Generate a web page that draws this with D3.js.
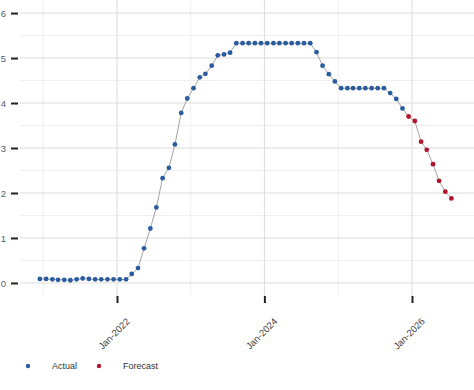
<!DOCTYPE html>
<html>
<head>
<meta charset="utf-8">
<script src="https://cdn.jsdelivr.net/npm/d3@7"></script>
<style>
  body { margin: 0; background: #fff; }
  svg { display: block; font-family: "Liberation Sans", Arial, sans-serif; }
</style>
</head>
<body>
<div id="chart"></div>
<script>
(function(){

// monthly rate, first value is Dec 2020
var actualStart = "2020-12"
var actual = [0.09, 0.09, 0.08, 0.07, 0.07, 0.06, 0.08, 0.10, 0.09, 0.08, 0.08, 0.08, 0.08,
              0.08, 0.08, 0.20, 0.33, 0.77, 1.21, 1.68, 2.33, 2.56, 3.08, 3.78, 4.10,
              4.33, 4.57, 4.65, 4.83, 5.06, 5.08, 5.12, 5.33, 5.33, 5.33, 5.33, 5.33,
              5.33, 5.33, 5.33, 5.33, 5.33, 5.33, 5.33, 5.33, 5.13, 4.83, 4.64, 4.48,
              4.33, 4.33, 4.33, 4.33, 4.33, 4.33, 4.33, 4.33, 4.22, 4.09, 3.88]
// forecast, first value is Dec 2025
var forecastStart = "2025-12"
var forecast = [3.70, 3.60, 3.14, 2.96, 2.64, 2.27, 2.03, 1.88]

var yTicks = [0, 1, 2, 3, 4, 5, 6]
var yMinor = [0.5, 1.5, 2.5, 3.5, 4.5, 5.5]
var xTicks = ["2022-01", "2024-01", "2026-01"]
var xMinor = ["2021-01", "2023-01", "2025-01"]
var legendItems = ["Actual", "Forecast"]

var colors = {Actual: "#2a5c9f", Forecast: "#b3152f"}

var width = 474, height = 390
var plot = {left: 20, right: 474, top: 0, bottom: 296}

var parseMonth = d3.timeParse("%Y-%m")

function toPoints(start, vals, kind) {
  var s = parseMonth(start)
  return vals.map(function(v, i) {
    var m = d3.timeMonth.offset(s, i)
    return {date: new Date(m.getFullYear(), m.getMonth(), 15), value: v, kind: kind}
  })
}

var actualPts = toPoints(actualStart, actual, "Actual")
var forecastPts = toPoints(forecastStart, forecast, "Forecast")
var allPts = actualPts.concat(forecastPts)

var x = d3.scaleTime()
    .domain([parseMonth("2022-01"), parseMonth("2026-01")])
    .range([117, 412])

var y = d3.scaleLinear()
    .domain([-0.29, 6.29])
    .range([plot.bottom, plot.top])

var svg = d3.select("#chart")
    .append("svg")
    .attr("width", width)
    .attr("height", height)

// grid
var grid = svg.append("g").attr("class", "grid")
grid.selectAll(".hminor")
    .data(yMinor).enter().append("line")
    .attr("x1", plot.left).attr("x2", plot.right)
    .attr("y1", d => y(d)).attr("y2", d => y(d))
    .attr("stroke", "#efefef").attr("stroke-width", 1)
grid.selectAll(".vminor")
    .data(xMinor).enter().append("line")
    .attr("x1", d => x(parseMonth(d))).attr("x2", d => x(parseMonth(d)))
    .attr("y1", plot.top).attr("y2", plot.bottom)
    .attr("stroke", "#efefef").attr("stroke-width", 1)
grid.selectAll(".hmajor")
    .data(yTicks).enter().append("line")
    .attr("x1", plot.left).attr("x2", plot.right)
    .attr("y1", d => y(d)).attr("y2", d => y(d))
    .attr("stroke", "#dcdcdc").attr("stroke-width", 1)
grid.selectAll(".vmajor")
    .data(xTicks).enter().append("line")
    .attr("x1", d => x(parseMonth(d))).attr("x2", d => x(parseMonth(d)))
    .attr("y1", plot.top).attr("y2", plot.bottom)
    .attr("stroke", "#dcdcdc").attr("stroke-width", 1)

// y axis: short dark dashes, labels on the far left
var yAxis = svg.append("g")
    .attr("transform", "translate(18,0)")
    .call(d3.axisLeft(y).tickValues(yTicks).tickSize(7).tickPadding(5).tickFormat(d3.format("d")))
yAxis.select(".domain").remove()
yAxis.selectAll(".tick line").attr("stroke", "#222").attr("stroke-width", 2)
yAxis.selectAll(".tick text")
    .attr("fill", "#556070")
    .style("font-size", "9.5px")

// x axis
var fmt = d3.timeFormat("%b-%Y")
var xAxis = svg.append("g")
    .attr("transform", "translate(0,296)")
    .call(d3.axisBottom(x).tickValues(xTicks.map(parseMonth)).tickSize(0).tickFormat(fmt))
xAxis.select(".domain").remove()
xAxis.selectAll(".tick").append("line")
    .attr("y1", 0).attr("y2", 7)
    .attr("stroke", "#222").attr("stroke-width", 2)
xAxis.selectAll(".tick text")
    .attr("fill", "#444")
    .style("font-size", "9.5px")
    .attr("text-anchor", "end")
    .attr("dy", null)
    .attr("y", 0)
    .attr("transform", "translate(13,26) rotate(-45)")

// line through all points
var line = d3.line()
    .x(d => x(d.date))
    .y(d => y(d.value))
svg.append("path")
    .datum(allPts)
    .attr("fill", "none")
    .attr("stroke", "#9a9a9a")
    .attr("stroke-width", 0.9)
    .attr("d", line)

svg.append("g").selectAll("circle")
    .data(allPts)
    .enter().append("circle")
    .attr("cx", d => x(d.date))
    .attr("cy", d => y(d.value))
    .attr("r", 2.4)
    .attr("fill", d => colors[d.kind])

// legend
var legend = svg.append("g").attr("transform", "translate(0,366)")
var li = legend.selectAll("g")
    .data(legendItems)
    .enter().append("g")
    .attr("transform", (d, i) => "translate(" + (28 + i * 71) + ",0)")
li.append("circle")
    .attr("r", 2.2)
    .attr("fill", d => colors[d])
li.append("text")
    .attr("x", 24)
    .attr("dy", "0.35em")
    .attr("fill", "#333")
    .style("font-size", "9px")
    .text(d => d)

})();
</script>
</body>
</html>
